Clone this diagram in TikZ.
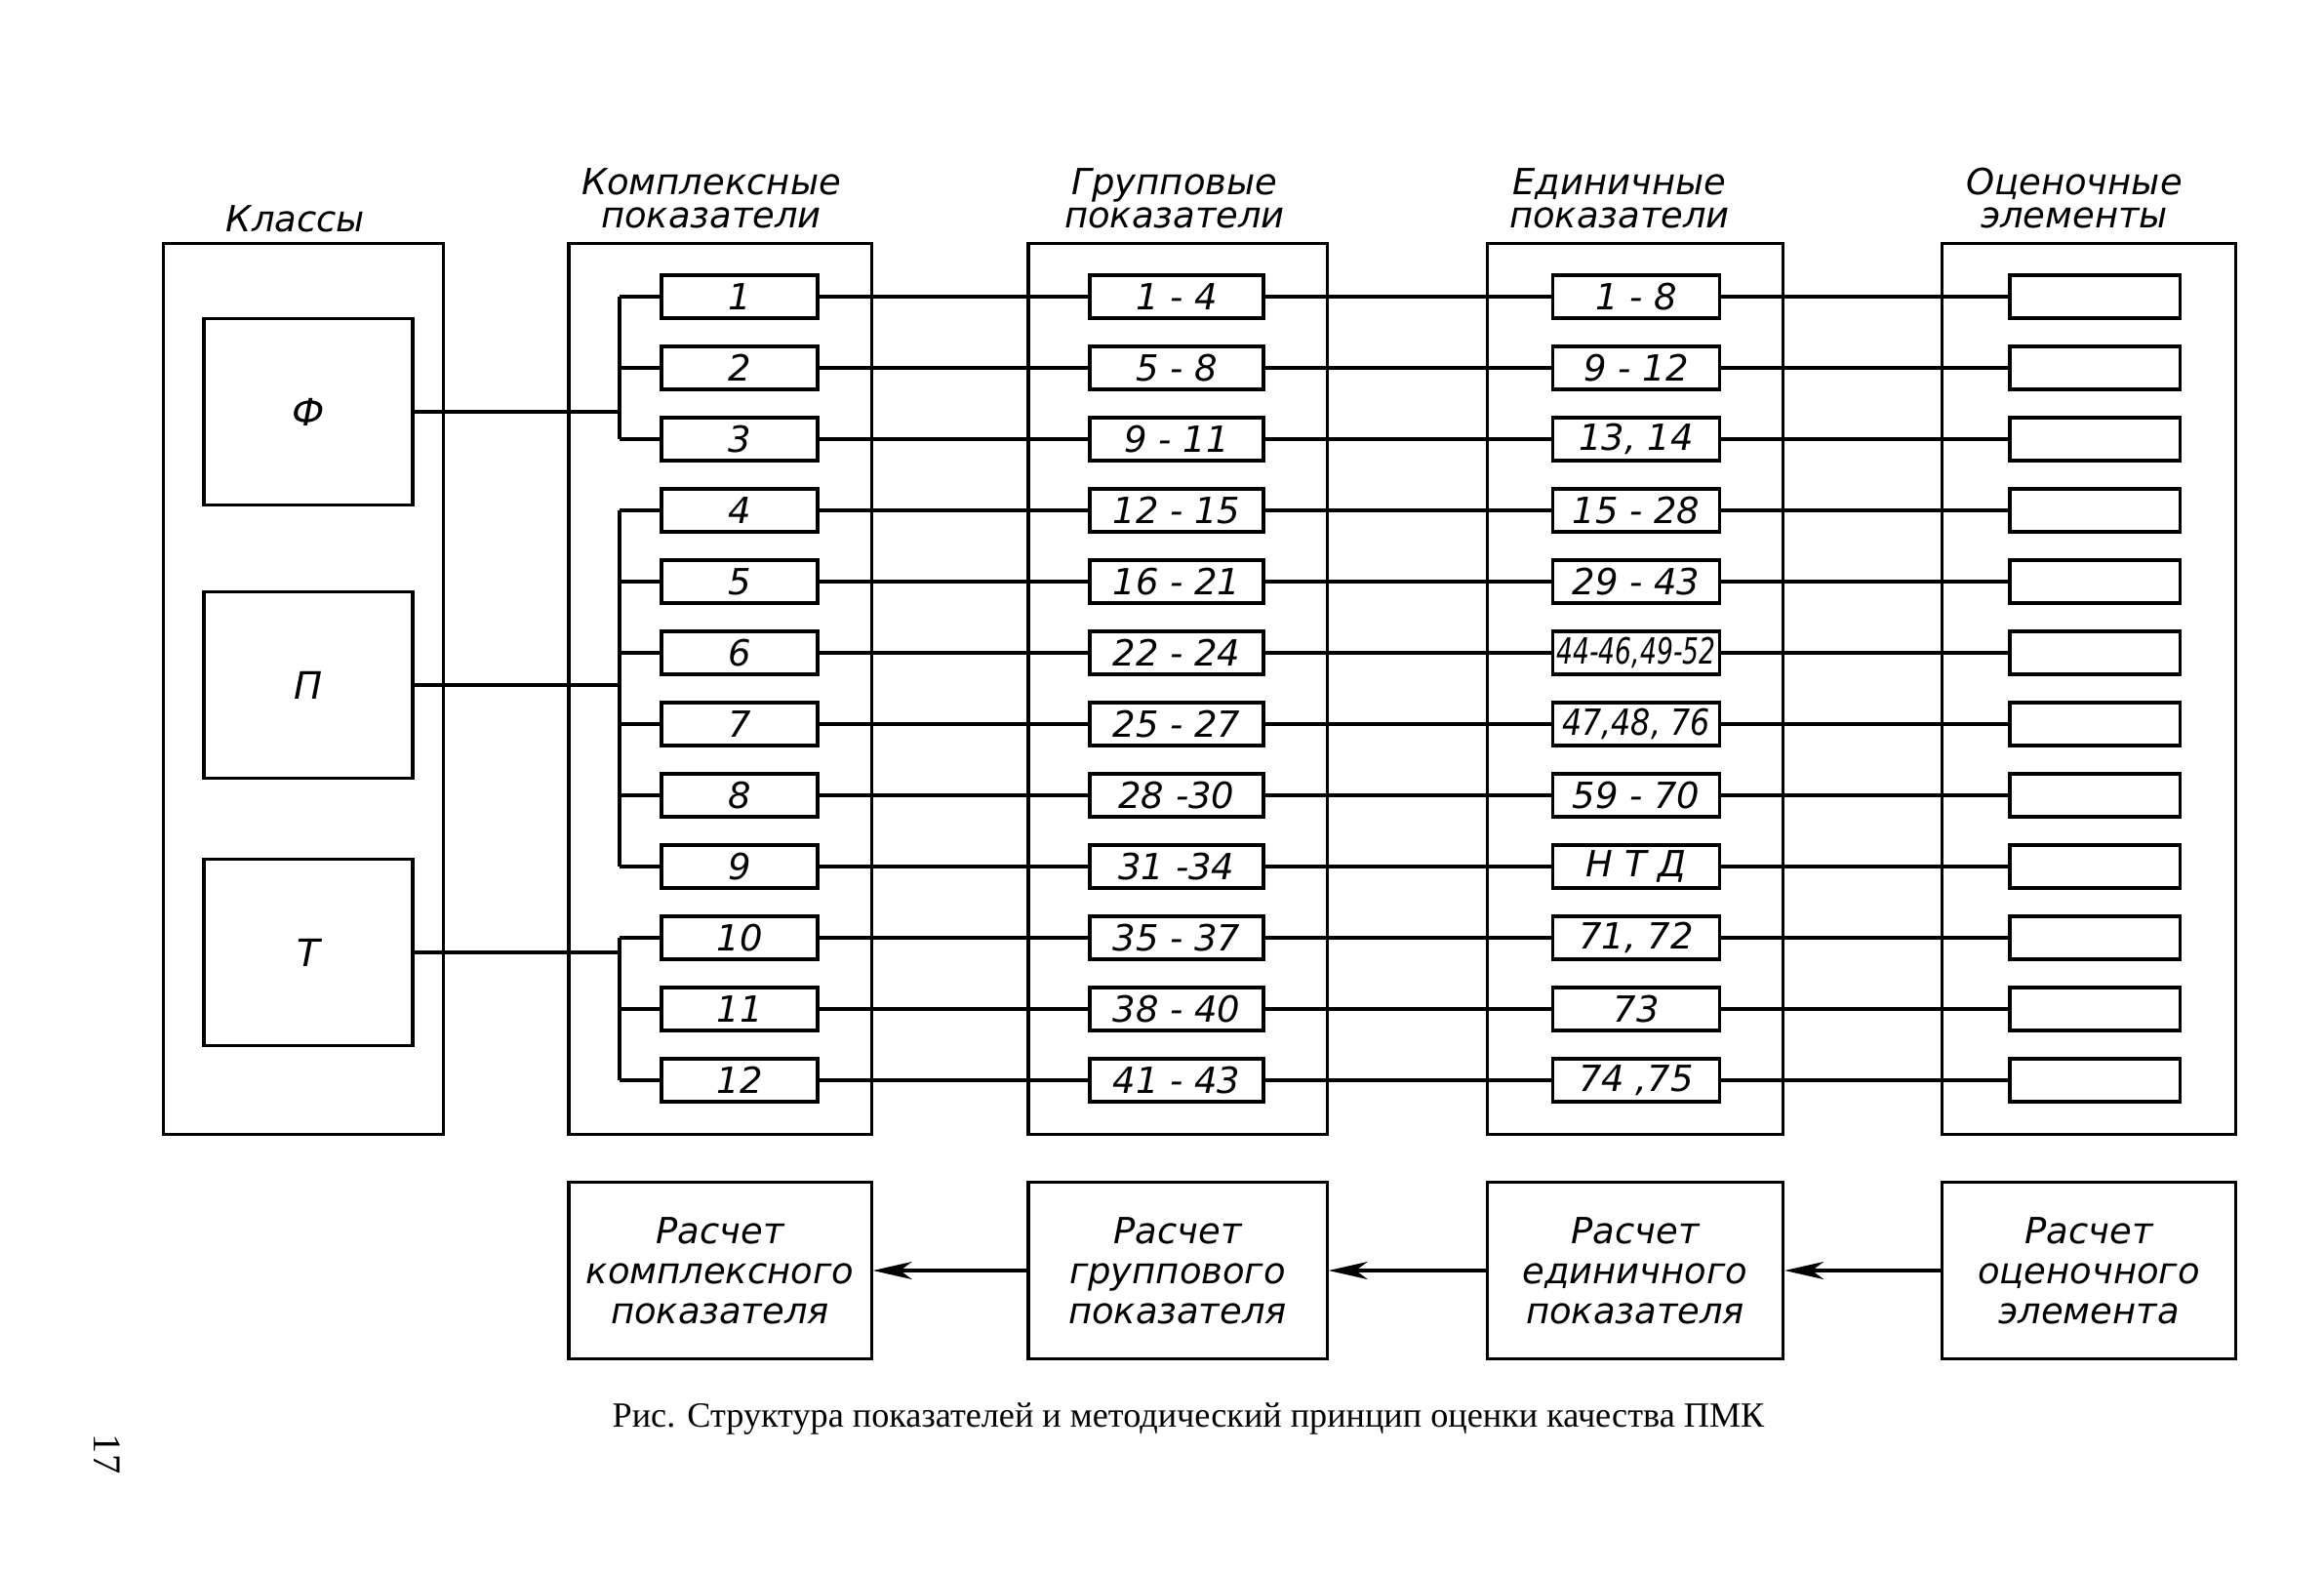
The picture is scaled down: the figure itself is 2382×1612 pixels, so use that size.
\documentclass[tikz,border=0pt]{standalone}
\usepackage{fontspec}
\setmainfont{Liberation Serif}
\newfontfamily\gost{DejaVu Sans}
\usepackage{graphicx}
\usetikzlibrary{arrows.meta,positioning}

\begin{document}
\begin{tikzpicture}[x=0.01cm, y=-0.01cm, line width=0.9pt,
			headlbl/.style={font=\gost\itshape\fontsize{10.5}{9.6}\selectfont, align=center, inner sep=0pt},
			cellbox/.style={draw, minimum height=0.44cm, inner sep=0pt, font=\gost\itshape\fontsize{10.5}{12}\selectfont},
			calcbox/.style={draw, minimum height=1.81cm, align=center, inner sep=0pt, font=\gost\itshape\fontsize{10.5}{11.7}\selectfont},
			arr/.style={-{Stealth[length=4mm,width=1.8mm,inset=1.2mm]}}]
			\useasboundingbox (0,0) rectangle (2382,1612);
			% columns
			\node[draw, minimum width=2.87cm, minimum height=9.12cm] (colC) at (311,706) {};
			\node[draw, minimum width=3.10cm, minimum height=9.12cm] (colK) at (738,706) {};
			\node[draw, minimum width=3.06cm, minimum height=9.12cm] (colG) at (1207,706) {};
			\node[draw, minimum width=3.03cm, minimum height=9.12cm] (colE) at (1676,706) {};
			\node[draw, minimum width=3.01cm, minimum height=9.12cm] (colO) at (2141,706) {};
			\node[headlbl] (hC) at (303,224) {Классы};
			\node[headlbl] (hK) at (729,203) {Комплексные\\показатели};
			\node[headlbl] (hG) at (1204,203) {Групповые\\показатели};
			\node[headlbl] (hE) at (1660,203) {Единичные\\показатели};
			\node[headlbl] (hO) at (2126,203) {Оценочные\\элементы};
			% classes
			\node[draw, minimum width=2.14cm, minimum height=1.91cm, font=\gost\itshape\fontsize{11}{12}\selectfont] (F) at (316,422) {Ф};
			\node[draw, minimum width=2.14cm, minimum height=1.91cm, font=\gost\itshape\fontsize{11}{12}\selectfont] (P) at (316,702) {П};
			\node[draw, minimum width=2.14cm, minimum height=1.91cm, font=\gost\itshape\fontsize{11}{12}\selectfont] (T) at (316,976) {Т};
			% rows
			\foreach \i/\g/\e [evaluate=\i as \ry using 304+73*(\i-1)] in {1/{1 - 4}/{1 - 8}, 2/{5 - 8}/{9 - 12}, 3/{9 - 11}/{13, 14},
				4/{12 - 15}/{15 - 28}, 5/{16 - 21}/{29 - 43}, 6/{22 - 24}/{\scalebox{0.72}[1]{44-46,49-52}},
				7/{25 - 27}/{\scalebox{0.86}[1]{47,48, 76}}, 8/{28 -30}/{59 - 70}, 9/{31 -34}/{Н Т Д},
				10/{35 - 37}/{71, 72}, 11/{38 - 40}/{73}, 12/{41 - 43}/{74 ,75}} {
				\node[cellbox, minimum width=1.60cm] (k\i) at (758,\ry) {\i};
				\node[cellbox, minimum width=1.78cm] (g\i) at (1206,\ry) {\g};
				\node[cellbox, minimum width=1.71cm] (e\i) at (1677,\ry) {\e};
				\node[cellbox, minimum width=1.74cm] (o\i) at (2147,\ry) {};
				\draw (k\i) -- (g\i);
				\draw (g\i) -- (e\i);
				\draw (e\i) -- (o\i);
			}
			% buses
			\coordinate (bus) at (635,0);
			\draw (F) -- (F -| bus);
			\draw (P) -- (P -| bus);
			\draw (T) -- (T -| bus);
			\draw (k1 -| bus) -- (k3 -| bus);
			\draw (k4 -| bus) -- (k9 -| bus);
			\draw (k10 -| bus) -- (k12 -| bus);
			\foreach \i in {1,...,12}
				\draw (k\i -| bus) -- (k\i);
			% calculation
			\node[calcbox, minimum width=3.10cm] (rk) at (738,1302) {Расчет\\комплексного\\показателя};
			\node[calcbox, minimum width=3.06cm] (rg) at (1207,1302) {Расчет\\группового\\показателя};
			\node[calcbox, minimum width=3.03cm] (re) at (1676,1302) {Расчет\\единичного\\показателя};
			\node[calcbox, minimum width=3.01cm] (ro) at (2141,1302) {Расчет\\оценочного\\элемента};
			\draw[arr] (ro) -- (re);
			\draw[arr] (re) -- (rg);
			\draw[arr] (rg) -- (rk);
			\node[font=\fontsize{10.3}{12}\selectfont] (cap) at (1218,1454) {Рис. Структура показателей и методический принцип оценки качества ПМК};
			\node[rotate=-90, font=\fontsize{11.5}{12}\selectfont] (pnum) at (110,1490) {17};
		\end{tikzpicture}
\end{document}
